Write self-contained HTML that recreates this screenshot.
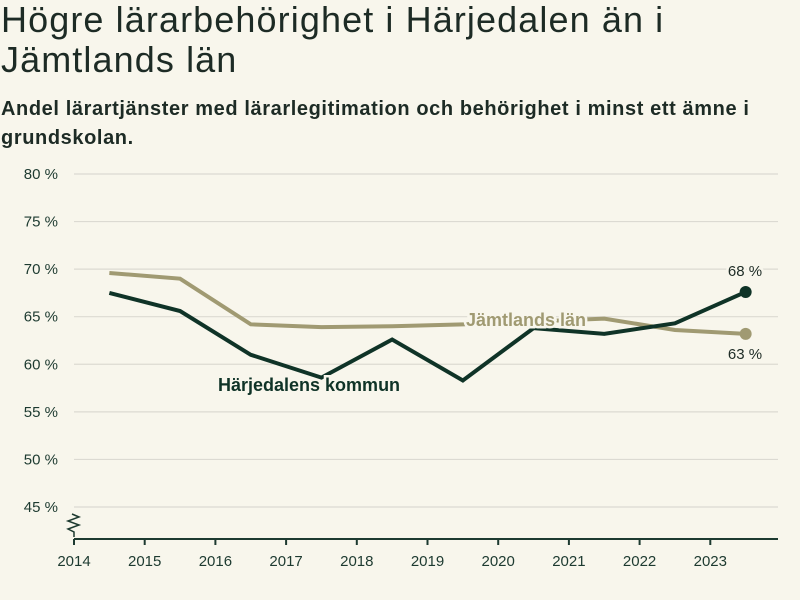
<!DOCTYPE html>
<html><head><meta charset="utf-8"><style>
body{margin:0;background:#f8f6ec;}
#c{width:800px;height:600px;position:relative;background:#f8f6ec;font-family:"Liberation Sans",sans-serif;color:#1d2b25;}
h1{position:absolute;left:1px;top:0px;margin:0;font-size:36px;line-height:40px;font-weight:normal;width:700px;letter-spacing:1.1px;}
h2{position:absolute;left:1px;top:95px;margin:0;font-size:20px;line-height:29px;font-weight:bold;width:795px;letter-spacing:0.6px;color:#1d2b25;}
svg{position:absolute;left:0;top:0;}
</style></head><body>
<div id="c">
<h1>Högre lärarbehörighet i Härjedalen än i Jämtlands län</h1>
<h2>Andel lärartjänster med lärarlegitimation och behörighet i minst ett ämne i grundskolan.</h2>
<svg id="s" width="800" height="600"></svg>
</div>
<script>
const years=[2014,2015,2016,2017,2018,2019,2020,2021,2022,2023];
const yTicks=[45,50,55,60,65,70,75,80];
const jamtland=[69.6,69.0,64.2,63.9,64.0,64.2,64.5,64.8,63.6,63.2];
const harjedalen=[67.5,65.6,61.0,58.6,62.6,58.3,63.8,63.2,64.3,67.6];
const NS='http://www.w3.org/2000/svg';
const s=document.getElementById('s');
const x=v=>74+(v-2014)*70.7;
const y=v=>174+(80-v)*9.514;
function mk(t,a,p){const e=document.createElementNS(NS,t);for(const k in a)e.setAttribute(k,a[k]);(p||s).appendChild(e);return e;}
yTicks.forEach(v=>{
 const g=mk('line',{x1:74,x2:778,y1:y(v),y2:y(v),stroke:'#dcdad2','stroke-width':1.2});
 
 
 const t=mk('text',{x:58,y:y(v)+5,'text-anchor':'end','font-size':15,fill:'#1d3a30'});
 t.textContent=v+' %';
 
 
});
const ax=mk('line',{x1:74,x2:778,y1:539,y2:539,stroke:'#1d3a30','stroke-width':2});


const zz=mk('path',{d:'M74,537 L74,532 L68,529 L79,525 L68,521 L79,517 L72,514',fill:'none',stroke:'#1d3a30','stroke-width':1.5});


years.forEach(v=>{
 const tk=mk('line',{x1:x(v),x2:x(v),y1:539,y2:545,stroke:'#1d3a30','stroke-width':2});
 
 
 const t=mk('text',{x:x(v),y:566,'text-anchor':'middle','font-size':15,fill:'#1d3a30'});
 t.textContent=v;
 
 
});
function series(d,col,name){
 const pts=d.map((v,i)=>x(years[i]+0.5)+','+y(v)).join(' ');
 const l=mk('polyline',{points:pts,fill:'none',stroke:col,'stroke-width':4,'stroke-linejoin':'miter'});
 
 
 const n=d.length-1;
 const c=mk('circle',{cx:x(years[n]+0.5),cy:y(d[n]),r:6,fill:col});
 
 
}
series(jamtland,'#a09a72','jamtland');
series(harjedalen,'#0f3327','harjedalen');
function lab(txt,xx,yy,col,fs,anchor,name,fw){
 const t=mk('text',{x:xx,y:yy,'font-size':fs,'font-weight':fw,fill:col,'text-anchor':anchor,stroke:'#f8f6ec','stroke-width':5,'paint-order':'stroke'});
 t.textContent=txt;
 
 
}
lab('Jämtlands län',466,326,'#a09a72',18,'start','jamtland-label','bold');
lab('Härjedalens kommun',218,391,'#0f3327',18,'start','harjedalen-label','bold');
const n=jamtland.length-1;
lab(Math.round(harjedalen[n])+' %',745,y(harjedalen[n])-16,'#1d2b25',15,'middle','harjedalen-end-value','normal');
lab(Math.round(jamtland[n])+' %',745,y(jamtland[n])+25,'#1d2b25',15,'middle','jamtland-end-value','normal');
</script>
</body></html>
